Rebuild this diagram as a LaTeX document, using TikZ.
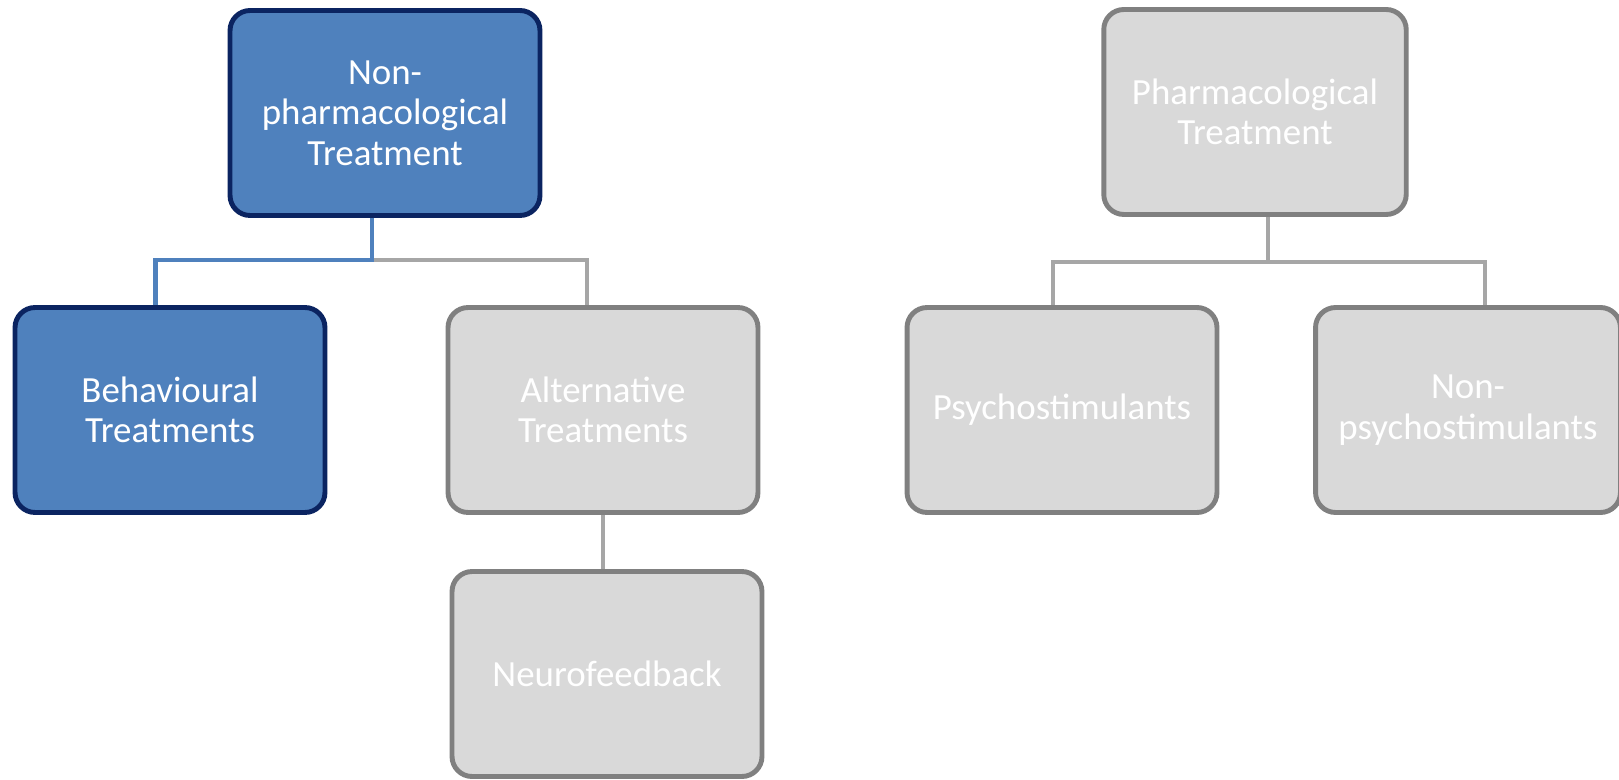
\documentclass[tikz,border=0pt]{standalone}
\usepackage{fontspec}
\setmainfont{Carlito}
\usetikzlibrary{positioning}

\definecolor{boxblue}{HTML}{4F81BD}
\definecolor{boxnavy}{HTML}{0B2461}
\definecolor{boxgray}{HTML}{D9D9D9}
\definecolor{edgegray}{HTML}{808080}
\definecolor{linkgray}{HTML}{A6A6A6}

\begin{document}
\begin{tikzpicture}[
    x=0.02cm, y=-0.02cm,
    box/.style={
        rectangle,
        rounded corners=0.4cm,
        line width=2.8pt,
        align=center,
        text=white,
        minimum width=6.2cm,
        minimum height=4.1cm,
        font=\fontsize{21}{23}\selectfont
    },
    bluebox/.style={
        box,
        draw=boxnavy,
        fill=boxblue
    },
    graybox/.style={
        box,
        draw=edgegray,
        fill=boxgray
    },
    bluelink/.style={
        draw=boxblue,
        line width=2.5pt
    },
    graylink/.style={
        draw=linkgray,
        line width=2.5pt
    }
]
\useasboundingbox (0,0) rectangle (1619,780);

\node[bluebox] (nonpharm) at (385,113)
{Non-\\pharmacological\\Treatment};

\node[bluebox] (behav) at (170,410)
{Behavioural\\Treatments};

\node[graybox] (altern) at (603,410)
{Alternative\\Treatments};

\node[graybox] (neuro) at (607,674)
{Neurofeedback};

\node[graybox, minimum width=6.05cm] (pharm) at (1255,112)
{Pharmacological\\Treatment};

\node[graybox] (psycho) at (1062,410)
{Psychostimulants};

\node[graybox, minimum width=6.1cm] (nonpsycho) at (1468,410)
{Non-\\psychostimulants};

\draw[graylink] ([xshift=-0.26cm]nonpharm.south) ++(0cm,-0.84cm) -| ([xshift=-0.32cm]altern.north);
\draw[bluelink] ([xshift=-0.26cm]nonpharm.south) -- ++(0cm,-0.84cm) -| ([xshift=-0.29cm]behav.north);
\draw[graylink] (altern.south) -- (altern.south |- neuro.north);
\draw[graylink] ([xshift=0.26cm]pharm.south) -- ++(0cm,-0.9cm) -| ([xshift=-0.18cm]psycho.north);
\draw[graylink] ([xshift=0.26cm]pharm.south) ++(0cm,-0.9cm) -| ([xshift=0.34cm]nonpsycho.north);
\end{tikzpicture}
\end{document}
